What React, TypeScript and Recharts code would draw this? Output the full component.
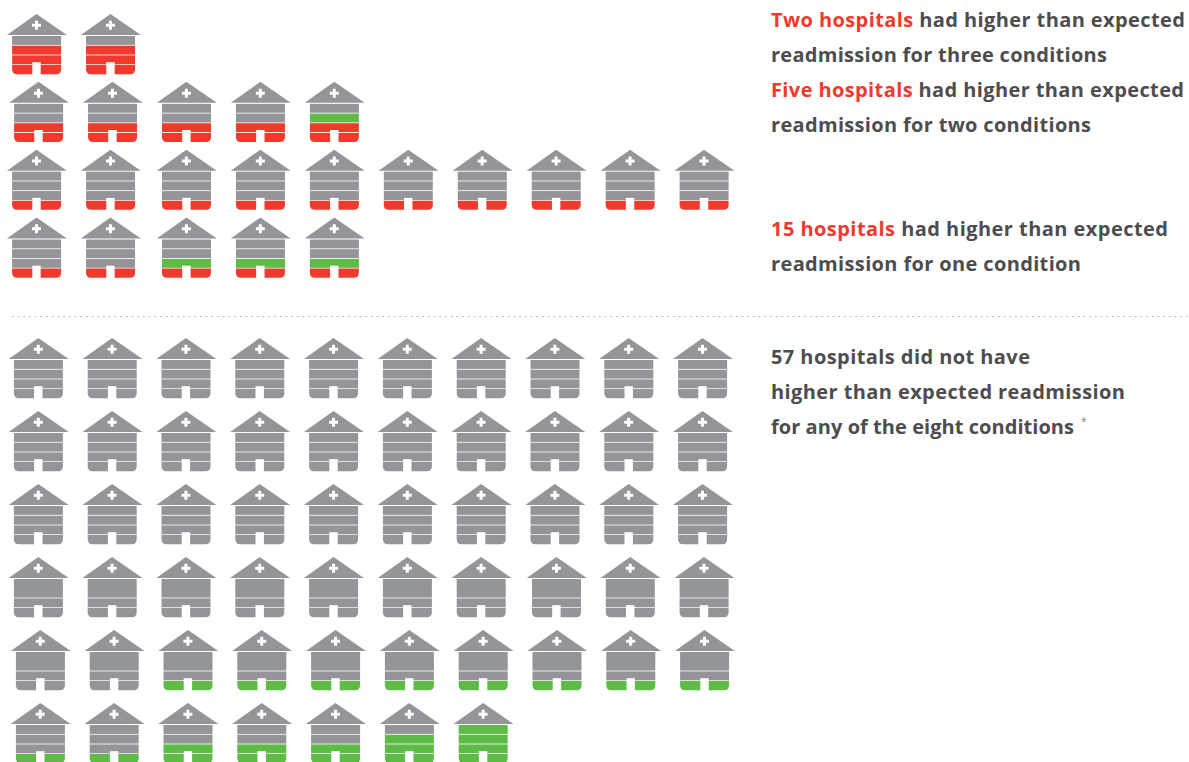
import React from "react";
import { Scatter, ScatterChart, XAxis, YAxis } from "recharts";

// each house is read top band to bottom band: g = grey, r = red, n = green
const overRows = [
  ["grrr", "grrr"],
  ["ggrr", "ggrr", "ggrr", "ggrr", "gnrr"],
  ["gggr", "gggr", "gggr", "gggr", "gggr", "gggr", "gggr", "gggr", "gggr", "gggr"],
  ["gggr", "gggr", "ggnr", "ggnr", "ggnr"],
];

const clearRows = [
  ["gggg", "gggg", "gggg", "gggg", "gggg", "gggg", "gggg", "gggg", "gggg", "gggg"],
  ["gggg", "gggg", "gggg", "gggg", "gggg", "gggg", "gggg", "gggg", "gggg", "gggg"],
  ["gggg", "gggg", "gggg", "gggg", "gggg", "gggg", "gggg", "gggg", "gggg", "gggg"],
  ["gggg", "gggg", "gggg", "gggg", "gggg", "gggg", "gggg", "gggg", "gggg", "gggg"],
  ["gggg", "gggg", "gggn", "gggn", "gggn", "gggn", "gggn", "gggn", "gggn", "gggn"],
  ["gggn", "gggn", "ggnn", "ggnn", "ggnn", "gnnn", "nnnn"],
];

const toPoints = (rows: string[][]) =>
  rows.flatMap((houses, row) => houses.map((bands, col) => ({ col, row, bands })));

const RED = "#ef3a2d";
const GREEN = "#5dbb46";
const GREY = "#939598";
const INK = "#4d4d4f";
const bandFill: Record<string, string> = { g: GREY, r: RED, n: GREEN };

// hand placed artwork in the original is not quite on a grid
const overNudge = (row: number, col: number) => (col < 2 ? [-2, 0, -2, -2][row] : 0);
const clearNudge = (row: number, col: number) => {
  if (row >= 4) return 2;
  return row === 3 && col >= 7 ? 1.5 : 0;
};

const House = ({ cx, cy, payload, nudge, mergedRows }: any) => {
  const x = cx + nudge(payload.row, payload.col);
  const bands: string = payload.bands;
  const merged = mergedRows.includes(payload.row);
  const left = x - 24.4;
  const right = x + 24.6;
  const pitch = 9.7;
  const top = cy + 22;
  return (
    <g>
      <polygon points={`${x},${cy} ${x + 30.4},${cy + 21} ${x - 29.6},${cy + 21}`} fill={GREY} />
      <path d={`M${x - 1.5} ${cy + 6.8}h3v3h3v3h-3v3h-3v-3h-3v-3h3z`} fill="#fff" />
      {bands.split("").map((b, i) => {
        const y = top + i * pitch;
        // the top two bands run together on the merged rows
        const height = merged && i === 0 ? pitch + 0.5 : pitch - 0.8;
        if (i === 3) {
          const bottom = y + pitch - 0.6;
          const r = 5;
          return (
            <path
              key={i}
              fill={bandFill[b]}
              d={`M${left} ${y}H${right}V${bottom - r}Q${right} ${bottom} ${right - r} ${bottom}H${left + r}Q${left} ${bottom} ${left} ${bottom - r}Z`}
            />
          );
        }
        return <rect key={i} x={left} y={y} width={right - left} height={height} fill={bandFill[b]} />;
      })}
      <rect x={x - 4.2} y={top + 26.2} width={8.4} height={14} fill="#fff" />
    </g>
  );
};

type Line = { lead?: string; rest: string; baseline: number; width: number };

const notes: Line[] = [
  { lead: "Two hospitals", rest: " had higher than expected", baseline: 27, width: 414 },
  { rest: "readmission for three conditions", baseline: 61.5, width: 336 },
  { lead: "Five hospitals", rest: " had higher than expected", baseline: 97, width: 413 },
  { rest: "readmission for two conditions", baseline: 131.5, width: 320 },
  { lead: "15 hospitals", rest: " had higher than expected", baseline: 235.5, width: 397 },
  { rest: "readmission for one condition", baseline: 270.5, width: 310 },
  { rest: "57 hospitals did not have", baseline: 363.5, width: 259 },
  { rest: "higher than expected readmission", baseline: 398.5, width: 354 },
  { rest: "for any of the eight conditions", baseline: 433.5, width: 303 },
];

const Notes = () => (
  <svg
    width={1189}
    height={762}
    style={{ position: "absolute", left: 0, top: 0 }}
    fontFamily="'Open Sans', sans-serif"
    fontWeight={700}
    fontSize={20}
  >
    <line x1={12} x2={1189} y1={316.5} y2={316.5} stroke="#a7a9ac" strokeWidth={1} strokeDasharray="1.5 4.2" />
    {notes.map((n) => (
      <text key={n.baseline} x={771} y={n.baseline} fill={INK} textLength={n.width} lengthAdjust="spacing">
        {n.lead && <tspan fill={RED}>{n.lead}</tspan>}
        {n.rest}
      </text>
    ))}
    <text x={1081} y={425} fontSize={10} fontWeight={400} fill="#808285">*</text>
  </svg>
);

const Pictogram = ({ rows, nudge, mergedRows, margin }: any) => (
  <div style={{ position: "absolute", left: 0, top: 0 }}>
    <ScatterChart width={1189} height={762} margin={margin}>
      <XAxis type="number" dataKey="col" domain={[0, 9]} hide />
      <YAxis type="number" dataKey="row" domain={[0, rows.length - 1]} reversed hide />
      <Scatter
        data={toPoints(rows)}
        isAnimationActive={false}
        shape={(p: any) => <House {...p} nudge={nudge} mergedRows={mergedRows} />}
      />
    </ScatterChart>
  </div>
);

export default function App() {
  return (
    <div style={{ position: "absolute", left: 0, top: 0, width: 1189, height: 762, overflow: "hidden", background: "#fff" }}>
      <Pictogram
        rows={overRows}
        nudge={overNudge}
        mergedRows={[]}
        margin={{ top: 14, bottom: 544.5, left: 38.5, right: 485 }}
      />
      <Pictogram
        rows={clearRows}
        nudge={clearNudge}
        mergedRows={[3, 4]}
        margin={{ top: 338, bottom: 59, left: 38.3, right: 486.5 }}
      />
      <Notes />
    </div>
  );
}
